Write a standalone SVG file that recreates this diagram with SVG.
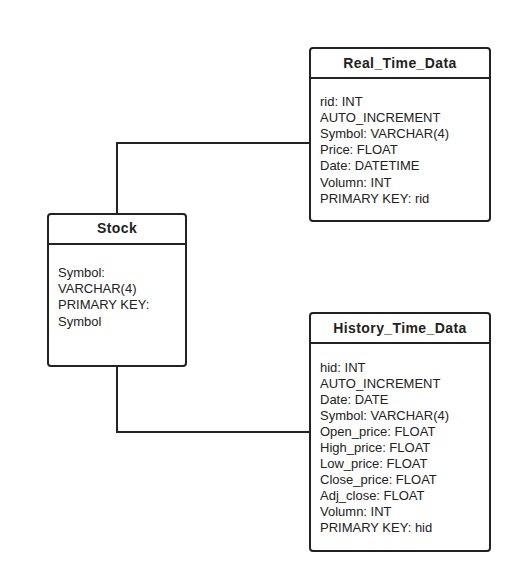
<svg xmlns="http://www.w3.org/2000/svg" width="522" height="582" viewBox="0 0 522 582">
<style>
.box{fill:#fff;stroke:#222;stroke-width:2}
.sep{stroke:#222;stroke-width:2}
.conn{fill:none;stroke:#222;stroke-width:2}
.title{font-family:"Liberation Sans",Arial,sans-serif;font-size:14px;font-weight:bold;fill:#222;text-anchor:middle;letter-spacing:0.4px}
.attr{font-family:"Liberation Sans",Arial,sans-serif;font-size:13px;fill:#222}
</style>
<rect width="522" height="582" fill="#fff"/>
<g id="connectors">
<polyline class="conn" points="310,143 117,143 117,214"/>
<polyline class="conn" points="117,366 117,432 310,432"/>
</g>
<g id="real_time_data">
<rect class="box" x="310" y="48" width="180" height="173" rx="3"/>
<line class="sep" x1="310" y1="78" x2="490" y2="78"/>
<text class="title" x="400" y="68">Real_Time_Data</text>
<text class="attr" x="320" y="106">rid: INT</text>
<text class="attr" x="320" y="122">AUTO_INCREMENT</text>
<text class="attr" x="320" y="138">Symbol: VARCHAR(4)</text>
<text class="attr" x="320" y="154">Price: FLOAT</text>
<text class="attr" x="320" y="170">Date: DATETIME</text>
<text class="attr" x="320" y="187">Volumn: INT</text>
<text class="attr" x="320" y="203">PRIMARY KEY: rid</text>
</g>
<g id="stock">
<rect class="box" x="48" y="214" width="138" height="152" rx="3"/>
<line class="sep" x1="48" y1="244" x2="186" y2="244"/>
<text class="title" x="117" y="233">Stock</text>
<text class="attr" x="58" y="277">Symbol:</text>
<text class="attr" x="58" y="293">VARCHAR(4)</text>
<text class="attr" x="58" y="309">PRIMARY KEY:</text>
<text class="attr" x="58" y="326">Symbol</text>
</g>
<g id="history_time_data">
<rect class="box" x="310" y="313" width="180" height="238" rx="3"/>
<line class="sep" x1="310" y1="343" x2="490" y2="343"/>
<text class="title" x="400" y="333">History_Time_Data</text>
<text class="attr" x="320" y="372">hid: INT</text>
<text class="attr" x="320" y="388">AUTO_INCREMENT</text>
<text class="attr" x="320" y="404">Date: DATE</text>
<text class="attr" x="320" y="420">Symbol: VARCHAR(4)</text>
<text class="attr" x="320" y="436">Open_price: FLOAT</text>
<text class="attr" x="320" y="452">High_price: FLOAT</text>
<text class="attr" x="320" y="468">Low_price: FLOAT</text>
<text class="attr" x="320" y="484">Close_price: FLOAT</text>
<text class="attr" x="320" y="500">Adj_close: FLOAT</text>
<text class="attr" x="320" y="516">Volumn: INT</text>
<text class="attr" x="320" y="532">PRIMARY KEY: hid</text>
</g>
</svg>
